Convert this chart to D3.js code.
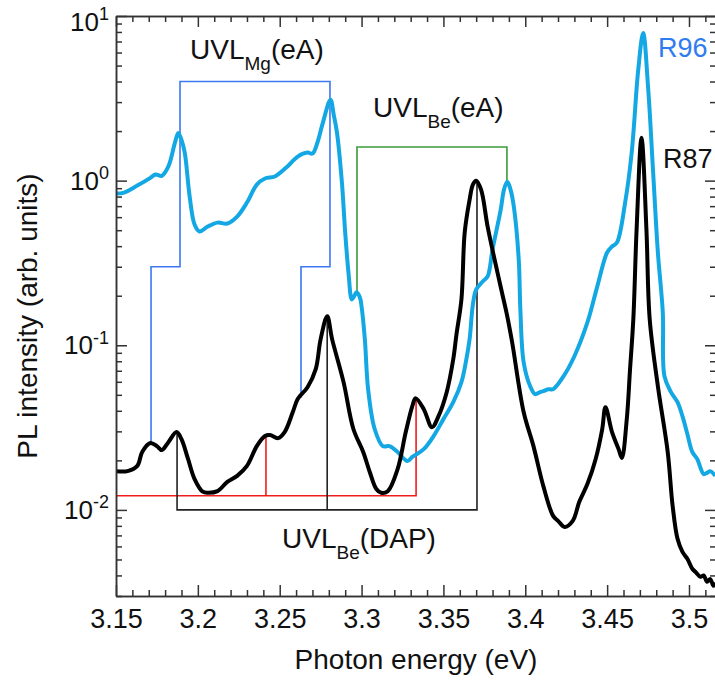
<!DOCTYPE html>
<html>
<head>
<meta charset="utf-8">
<title>PL spectra R87 / R96</title>
<script src="https://cdn.jsdelivr.net/npm/d3@7/dist/d3.min.js"></script>
<style>
  body { margin: 0; background: #fff; }
  svg { font-family: "Liberation Sans", Arial, sans-serif; }
  .axis path, .axis line { stroke: #333; stroke-width: 1.5; }
  .axis text { font-size: 27px; fill: #111; }
</style>
</head>
<body>
<script>
// Sample R87 (black): photon energy (eV) and PL intensity (arb. units)
var r87Energy = [3.150, 3.157, 3.163, 3.166, 3.171, 3.175, 3.178, 3.182, 3.187, 3.190, 3.194, 3.198, 3.203, 3.206, 3.212, 3.218, 3.224, 3.230, 3.236, 3.241, 3.244, 3.249, 3.253, 3.258, 3.261, 3.267, 3.272, 3.275, 3.279, 3.282, 3.289, 3.295, 3.301, 3.305, 3.309, 3.312, 3.316, 3.322, 3.327, 3.331, 3.333, 3.338, 3.343, 3.347, 3.352, 3.356, 3.358, 3.361, 3.363, 3.366, 3.368, 3.370, 3.373, 3.377, 3.383, 3.386, 3.389, 3.392, 3.399, 3.405, 3.411, 3.417, 3.420, 3.424, 3.429, 3.433, 3.438, 3.443, 3.447, 3.449, 3.453, 3.457, 3.459, 3.462, 3.464, 3.466, 3.468, 3.471, 3.474, 3.476, 3.481, 3.487, 3.490, 3.493, 3.496, 3.499, 3.502, 3.504, 3.507, 3.509, 3.511, 3.513, 3.515, 3.5165];
var r87Intensity = [0.0172, 0.0172, 0.0185, 0.0225, 0.0255, 0.0244, 0.0231, 0.0258, 0.0297, 0.0269, 0.0204, 0.0154, 0.0129, 0.0127, 0.0130, 0.0148, 0.0161, 0.0185, 0.0244, 0.0281, 0.0285, 0.0273, 0.0297, 0.0393, 0.0471, 0.0556, 0.0716, 0.109, 0.150, 0.109, 0.0597, 0.0310, 0.0225, 0.0170, 0.0134, 0.0127, 0.0130, 0.0177, 0.0297, 0.0427, 0.0477, 0.0409, 0.0318, 0.0371, 0.0519, 0.0822, 0.117, 0.190, 0.484, 0.767, 0.946, 1.0, 0.882, 0.526, 0.277, 0.204, 0.150, 0.104, 0.0393, 0.0244, 0.0140, 0.0092, 0.00858, 0.00788, 0.00858, 0.0112, 0.0144, 0.0204, 0.0310, 0.0421, 0.0297, 0.0234, 0.0207, 0.0356, 0.0716, 0.144, 0.505, 1.82, 0.505, 0.144, 0.0564, 0.0225, 0.0106, 0.00667, 0.00556, 0.00505, 0.00439, 0.0042, 0.00393, 0.0040, 0.00366, 0.0038, 0.00346, 0.0036];

// Sample R96 (light blue)
var r96Energy = [3.150, 3.155, 3.163, 3.171, 3.174, 3.178, 3.182, 3.186, 3.188, 3.190, 3.192, 3.195, 3.198, 3.201, 3.206, 3.212, 3.218, 3.224, 3.230, 3.236, 3.241, 3.247, 3.254, 3.261, 3.267, 3.270, 3.273, 3.276, 3.281, 3.283, 3.285, 3.288, 3.290, 3.292, 3.294, 3.295, 3.297, 3.299, 3.300, 3.302, 3.304, 3.308, 3.313, 3.317, 3.322, 3.328, 3.331, 3.338, 3.344, 3.350, 3.356, 3.361, 3.364, 3.366, 3.368, 3.370, 3.374, 3.377, 3.380, 3.385, 3.387, 3.389, 3.391, 3.393, 3.396, 3.397, 3.399, 3.403, 3.406, 3.409, 3.411, 3.414, 3.417, 3.423, 3.430, 3.438, 3.444, 3.450, 3.453, 3.456, 3.461, 3.465, 3.469, 3.472, 3.475, 3.478, 3.481, 3.484, 3.485, 3.489, 3.493, 3.496, 3.499, 3.502, 3.505, 3.509, 3.511, 3.513, 3.516];
var r96Intensity = [0.834, 0.846, 0.933, 1.04, 1.09, 1.07, 1.22, 1.70, 1.95, 1.77, 1.48, 0.800, 0.541, 0.491, 0.526, 0.556, 0.549, 0.605, 0.736, 0.946, 1.03, 1.06, 1.20, 1.40, 1.48, 1.46, 1.70, 2.18, 3.10, 2.51, 1.95, 0.972, 0.484, 0.277, 0.190, 0.195, 0.210, 0.195, 0.172, 0.109, 0.0541, 0.0310, 0.0244, 0.0244, 0.0225, 0.0198, 0.0210, 0.0234, 0.0281, 0.0356, 0.0451, 0.0597, 0.0822, 0.109, 0.177, 0.218, 0.244, 0.262, 0.382, 0.667, 0.882, 0.986, 0.882, 0.696, 0.332, 0.165, 0.0789, 0.0564, 0.0505, 0.0520, 0.0526, 0.0541, 0.0541, 0.0640, 0.0858, 0.138, 0.228, 0.366, 0.398, 0.421, 0.736, 1.48, 4.71, 7.88, 3.71, 1.17, 0.366, 0.158, 0.0649, 0.0519, 0.0451, 0.0371, 0.0289, 0.0225, 0.0204, 0.0165, 0.0168, 0.0172, 0.0161];

// Tick values and labels
var xTicks = [3.15, 3.2, 3.25, 3.3, 3.35, 3.4, 3.45, 3.5];
var xTickLabels = ["3.15", "3.2", "3.25", "3.3", "3.35", "3.4", "3.45", "3.5"];
var yTicks = [0.01, 0.1, 1, 10];
var yTickExponents = ["-2", "-1", "0", "1"];

// Guide brackets (energy, intensity) marking the phonon replicas
var mgBracketE = [3.1714, 3.1714, 3.1891, 3.1891, 3.2807, 3.2807, 3.263, 3.263];
var mgBracketI = [0.0255, 0.30, 0.30, 4.0, 4.0, 0.30, 0.30, 0.048];
var beEaBracketE = [3.2972, 3.2972, 3.3888, 3.3888];
var beEaBracketI = [0.21, 1.6, 1.6, 0.986];
var dapBracketE = [3.1873, 3.1873, 3.3705, 3.3705];
var dapBracketI = [0.0297, 0.01, 0.01, 1.0];
var dapMidE = [3.279, 3.279];
var dapMidI = [0.01, 0.15];
var redBracketE = [3.15, 3.3333, 3.3333];
var redBracketI = [0.0122, 0.0122, 0.0477];
var redMidE = [3.2416, 3.2416];
var redMidI = [0.0122, 0.0281];

// Size of page and plot frame
var width = 715, height = 683;
var margin = {top: 16, right: -1, bottom: 87, left: 116};
var plotRight = width - margin.right;
var plotBottom = height - margin.bottom;

var svg = d3.select("body").append("svg")
    .attr("width", width)
    .attr("height", height);

// Scales
var x = d3.scaleLinear().domain([3.15, 3.5165]).range([margin.left, plotRight]);
var y = d3.scaleLog().domain([0.003, 10]).range([plotBottom, margin.top]);

// Minor tick positions
var xMinor = d3.range(3.15, 3.515, 0.01).map(function(d) { return +d.toFixed(2); })
    .filter(function(d) { return xTicks.indexOf(d) < 0; });
var yMinor = [];
[0.001, 0.01, 0.1, 1].forEach(function(dec) {
  for (var m = 2; m <= 9; m++) {
    var v = +(m * dec).toPrecision(3);
    if (v >= 0.003 && v <= 10) yMinor.push(v);
  }
});

// Clip for the spectra
svg.append("clipPath").attr("id", "plot-clip")
  .append("rect")
    .attr("x", margin.left).attr("y", margin.top)
    .attr("width", plotRight - margin.left).attr("height", plotBottom - margin.top);

// Guide brackets drawn beneath the curves
var guide = d3.line().x(function(d) { return x(d[0]); }).y(function(d) { return y(d[1]); });
function drawGuide(es, is, color) {
  svg.append("path")
    .attr("d", guide(d3.zip(es, is)))
    .attr("fill", "none")
    .attr("stroke", color)
    .attr("stroke-width", 1.6)
    .attr("clip-path", "url(#plot-clip)");
}
drawGuide(mgBracketE, mgBracketI, "#3b78f2");
drawGuide(beEaBracketE, beEaBracketI, "#3c9a3c");
drawGuide(redBracketE, redBracketI, "#f01c1c");
drawGuide(redMidE, redMidI, "#f01c1c");
drawGuide(dapBracketE, dapBracketI, "#222");
drawGuide(dapMidE, dapMidI, "#222");

// Spectra
var spectrum = d3.line()
    .x(function(d) { return x(d[0]); })
    .y(function(d) { return y(d[1]); })
    .curve(d3.curveCatmullRom.alpha(0.5));

svg.append("path")
    .attr("d", spectrum(d3.zip(r96Energy, r96Intensity)))
    .attr("fill", "none")
    .attr("stroke", "#13a8e3")
    .attr("stroke-width", 4)
    .attr("stroke-linejoin", "round")
    .attr("clip-path", "url(#plot-clip)");

svg.append("path")
    .attr("d", spectrum(d3.zip(r87Energy, r87Intensity)))
    .attr("fill", "none")
    .attr("stroke", "#000")
    .attr("stroke-width", 4)
    .attr("stroke-linejoin", "round")
    .attr("clip-path", "url(#plot-clip)");

// Axes, ticks pointing inward
svg.append("g").attr("class", "axis")
    .attr("transform", "translate(0," + plotBottom + ")")
    .call(d3.axisBottom(x).tickValues(xTicks).tickSizeInner(-11).tickSizeOuter(0).tickPadding(13)
      .tickFormat(function(d, i) { return xTickLabels[i]; }));
svg.append("g").attr("class", "axis")
    .attr("transform", "translate(0," + plotBottom + ")")
    .call(d3.axisBottom(x).tickValues(xMinor).tickSizeInner(-6).tickSizeOuter(0).tickFormat(""));
svg.append("g").attr("class", "axis")
    .attr("transform", "translate(0," + margin.top + ")")
    .call(d3.axisTop(x).tickValues(xTicks).tickSizeInner(-11).tickSizeOuter(0).tickFormat(""));
svg.append("g").attr("class", "axis")
    .attr("transform", "translate(0," + margin.top + ")")
    .call(d3.axisTop(x).tickValues(xMinor).tickSizeInner(-6).tickSizeOuter(0).tickFormat(""));

svg.append("g").attr("class", "axis")
    .attr("transform", "translate(" + margin.left + ",0)")
    .call(d3.axisLeft(y).tickValues(yTicks).tickSizeInner(-11).tickSizeOuter(0).tickFormat(""));
svg.append("g").attr("class", "axis")
    .attr("transform", "translate(" + margin.left + ",0)")
    .call(d3.axisLeft(y).tickValues(yMinor).tickSizeInner(-6).tickSizeOuter(0).tickFormat(""));
svg.append("g").attr("class", "axis")
    .attr("transform", "translate(" + plotRight + ",0)")
    .call(d3.axisRight(y).tickValues(yTicks).tickSizeInner(-11).tickSizeOuter(0).tickFormat(""));
svg.append("g").attr("class", "axis")
    .attr("transform", "translate(" + plotRight + ",0)")
    .call(d3.axisRight(y).tickValues(yMinor).tickSizeInner(-6).tickSizeOuter(0).tickFormat(""));

// Power-of-ten labels on the left axis (top one nudged down to stay on the page)
yTicks.forEach(function(v, i) {
  var t = svg.append("text")
      .attr("x", margin.left - 7)
      .attr("y", y(v) + (i === yTicks.length - 1 ? 6 : 0))
      .attr("dy", "0.35em")
      .attr("text-anchor", "end")
      .style("font-size", "26px")
      .attr("fill", "#111");
  t.append("tspan").text("10");
  t.append("tspan").attr("dy", "-0.6em").style("font-size", "18px").text(yTickExponents[i]);
});

// Axis titles
svg.append("text")
    .attr("x", (margin.left + plotRight) / 2)
    .attr("y", 669)
    .attr("text-anchor", "middle")
    .style("font-size", "28px")
    .attr("fill", "#111")
    .text("Photon energy (eV)");
svg.append("text")
    .attr("transform", "translate(37,316) rotate(-90)")
    .attr("text-anchor", "middle")
    .style("font-size", "28px")
    .attr("fill", "#111")
    .text("PL intensity (arb. units)");

// Labels with subscripts
function subLabel(px, py, main, sub, tail) {
  var t = svg.append("text")
      .attr("x", px).attr("y", py)
      .style("font-size", "28px")
      .attr("fill", "#111");
  t.append("tspan").text(main);
  t.append("tspan").attr("dy", 11).style("font-size", "19px").text(sub);
  t.append("tspan").attr("dy", -11).text(tail);
}
subLabel(190, 59, "UVL", "Mg", "(eA)");
subLabel(373, 117, "UVL", "Be", "(eA)");
subLabel(282, 548, "UVL", "Be", "(DAP)");

svg.append("text").attr("x", 658).attr("y", 57)
    .style("font-size", "27px").attr("fill", "#2f7cf0").text("R96");
svg.append("text").attr("x", 663).attr("y", 168)
    .style("font-size", "27px").attr("fill", "#111").text("R87");
</script>
</body>
</html>
